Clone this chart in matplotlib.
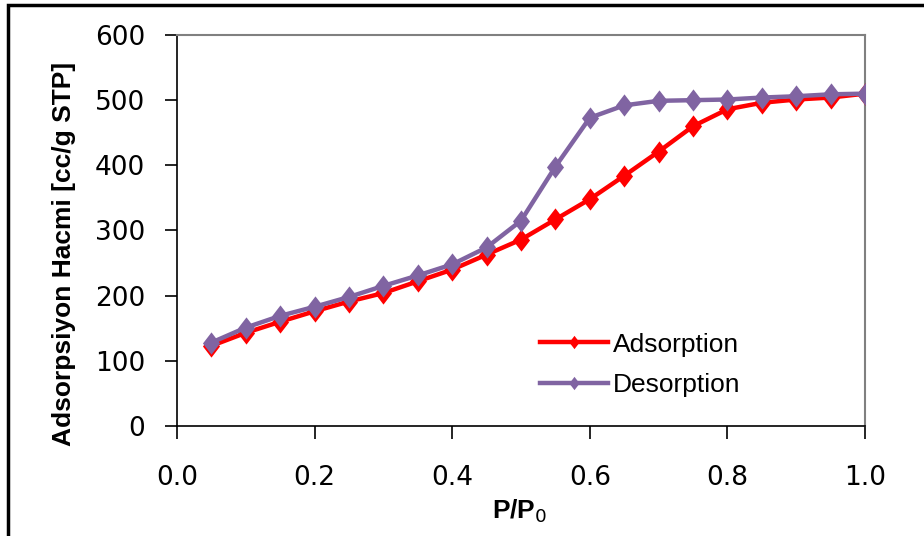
import matplotlib
matplotlib.use("Agg")
import matplotlib.pyplot as plt
from matplotlib.patches import Rectangle
from matplotlib.path import Path
from matplotlib.ticker import FormatStrFormatter

# Relative pressure points
p_rel = [0.05, 0.10, 0.15, 0.20, 0.25, 0.30, 0.35, 0.40, 0.45, 0.50,
         0.55, 0.60, 0.65, 0.70, 0.75, 0.80, 0.85, 0.90, 0.95, 1.00]

# Adsorbed volume [cc/g STP]
adsorption = [123, 143, 160, 176, 191, 204, 222, 240, 263, 286,
              317, 348, 384, 421, 460, 486, 496, 501, 504, 510]
desorption = [128, 151, 169, 183, 198, 215, 231, 248, 274, 315,
              398, 473, 492, 499, 500, 501, 504, 506, 509, 510]

series_names = ["Adsorption", "Desorption"]
y_ticks = [0, 100, 200, 300, 400, 500, 600]
x_ticks = [0.0, 0.2, 0.4, 0.6, 0.8, 1.0]

label_font = ["Liberation Sans", "DejaVu Sans"]

# Slightly tall diamond marker
diamond = Path([(0, 1.3), (1, 0), (0, -1.3), (-1, 0), (0, 1.3)],
               [Path.MOVETO, Path.LINETO, Path.LINETO, Path.LINETO,
                Path.CLOSEPOLY])

fig = plt.figure(figsize=(9.24, 5.36), dpi=100)
ax = fig.add_axes([177 / 924, 1 - 426 / 536, (865 - 177) / 924, (426 - 35) / 536])

ax.plot(p_rel, adsorption, color="#FF0000", lw=3.2, marker=diamond, ms=16,
        markeredgewidth=0, label=series_names[0], zorder=3)
ax.plot(p_rel, desorption, color="#8064A2", lw=3.2, marker=diamond, ms=16,
        markeredgewidth=0, label=series_names[1], zorder=4)

ax.set_xlim(0.0, 1.0)
ax.set_ylim(0, 600)
ax.set_xticks(x_ticks)
ax.set_yticks(y_ticks)
ax.xaxis.set_major_formatter(FormatStrFormatter("%.1f"))

for side in ("top", "right"):
    ax.spines[side].set_color("#808080")
    ax.spines[side].set_linewidth(1.5)
for side in ("left", "bottom"):
    ax.spines[side].set_color("black")
    ax.spines[side].set_linewidth(1.2)

ax.tick_params(axis="y", direction="out", length=9, width=1.2, pad=14,
               labelsize=19, colors="black")
ax.tick_params(axis="x", direction="out", length=9, width=1.2, pad=19,
               labelsize=19, colors="black")

ax.set_xlabel("P/P$_0$", fontsize=19, fontweight="bold", family=label_font)
ax.xaxis.set_label_coords(0.4985, -0.183)
ax.set_ylabel("Adsorpsiyon Hacmi [cc/g STP]", fontsize=19, fontweight="bold",
              family=label_font)
ax.yaxis.set_label_coords(-0.147, 0.44)

leg = ax.legend(loc="upper left", bbox_to_anchor=(0.512, 0.266), frameon=False,
                handlelength=2.58, handletextpad=0.2, labelspacing=0.62,
                borderaxespad=0.0, markerscale=0.6,
                prop={"family": label_font, "size": 19})

# Outer chart frame
fig.add_artist(Rectangle((8 / 924, -0.1), 1.2, 1.1 - 5 / 536,
                         transform=fig.transFigure, fill=False,
                         edgecolor="black", linewidth=2.5))

fig.savefig("out.png", dpi=100)
